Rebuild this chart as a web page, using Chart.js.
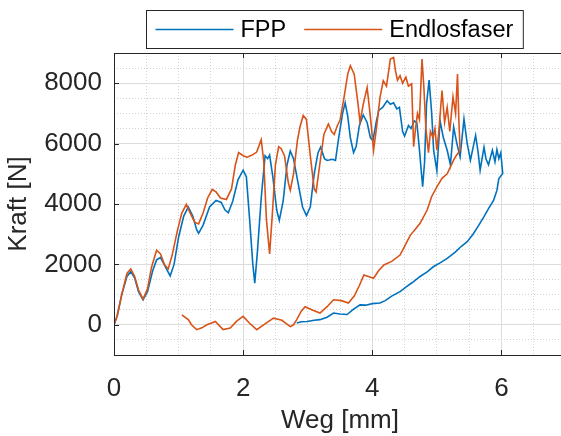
<!DOCTYPE html>
<html>
<head>
<meta charset="utf-8">
<script src="https://cdn.jsdelivr.net/npm/chart.js@4.4.1/dist/chart.umd.min.js"></script>
<style>
  html, body { margin: 0; padding: 0; background: #fff; overflow: hidden; }
  #wrap { width: 568px; height: 436px; }
</style>
</head>
<body>
<div id="wrap"><canvas id="chart" width="568" height="436"></canvas></div>
<script>
// FPP: loading up to ~6 mm, then unloading back down
const fppWeg = [
  0.0, 0.05, 0.12, 0.2, 0.26, 0.32, 0.38, 0.45, 0.52, 0.6, 0.66, 0.72, 0.8, 0.87, 0.93,
  1.0, 1.08, 1.15, 1.22, 1.28, 1.31, 1.38, 1.48, 1.58, 1.66, 1.72, 1.77, 1.84, 1.92,
  2.0, 2.05, 2.1, 2.15, 2.18, 2.22, 2.28, 2.34, 2.38, 2.41, 2.46, 2.52, 2.56, 2.62, 2.68,
  2.73, 2.78, 2.85, 2.92, 2.98, 3.04, 3.10, 3.16, 3.20, 3.26, 3.30, 3.38, 3.43, 3.48,
  3.54, 3.58, 3.62, 3.66, 3.71, 3.75, 3.80, 3.86, 3.92, 3.97, 4.01, 4.06, 4.10, 4.16,
  4.23, 4.28, 4.33, 4.38, 4.42, 4.47, 4.50, 4.56, 4.60, 4.65, 4.69, 4.73, 4.78, 4.81,
  4.84, 4.88, 4.92, 4.95, 5.00, 5.05, 5.10, 5.16, 5.21, 5.26, 5.31, 5.36, 5.42, 5.47,
  5.52, 5.60, 5.64, 5.67, 5.73, 5.76, 5.80, 5.86, 5.90, 5.93, 5.96, 5.99, 6.02,
  5.96, 5.93, 5.88, 5.80, 5.73, 5.65, 5.56, 5.47, 5.38, 5.28, 5.16, 5.05, 4.95, 4.85,
  4.74, 4.62, 4.52, 4.43, 4.30, 4.20, 4.12, 4.00, 3.90, 3.81, 3.70, 3.61, 3.50, 3.40,
  3.30, 3.19, 3.10, 2.99, 2.90, 2.83
];
const fppKraft = [
  0, 300, 1000, 1600, 1760, 1550, 1100, 830, 1100, 1800, 2150, 2230, 1900, 1620, 2000,
  2900, 3600, 3900, 3600, 3150, 3030, 3300, 3900, 4120, 4050, 3800, 3710, 4100, 4800,
  5120, 4900, 3500, 2000, 1380, 2400, 4200, 5600, 5500, 5620, 4900, 3800, 3460, 4100, 5300,
  5750, 5500, 4700, 3900, 3620, 3900, 5000, 5700, 5880, 5500, 5440, 5480, 5440, 6200,
  7000, 7350, 6900, 6200, 5700, 5900, 6600, 6950, 6700, 6200, 6100, 6700, 7100, 7200,
  7420, 7300, 7350, 7150, 7200, 6400, 6250, 6600, 6500, 6750, 6700, 5800, 4570, 5400,
  7300, 8100, 7000, 5780, 5100, 6750, 6200, 5780, 5300, 6550, 6000, 5560, 6820, 6000,
  5450, 6270, 5700, 5120, 5880, 5500, 5300, 5780, 5400, 5800, 5500, 5700, 5010,
  4840, 4450, 4130, 3850, 3580, 3300, 3000, 2750, 2600, 2400, 2200, 2050, 1930, 1750,
  1600, 1400, 1250, 1100, 950, 800, 720, 700, 650, 660, 500, 340, 360, 390,
  250, 170, 150, 110, 100, 60
];

// Endlosfaser: loading up to ~5.4 mm, then unloading back to ~1 mm
const endWeg = [
  0.0, 0.05, 0.12, 0.2, 0.26, 0.32, 0.38, 0.45, 0.52, 0.58, 0.66, 0.72, 0.78, 0.84, 0.90,
  0.98, 1.05, 1.12, 1.18, 1.25, 1.31, 1.38, 1.45, 1.52, 1.58, 1.65, 1.74, 1.82, 1.88,
  1.93, 2.00, 2.06, 2.14, 2.21, 2.28, 2.32, 2.36, 2.41, 2.45, 2.50, 2.55, 2.59, 2.64,
  2.70, 2.73, 2.78, 2.84, 2.88, 2.93, 2.98, 3.04, 3.10, 3.13, 3.18, 3.25, 3.32, 3.37,
  3.41, 3.46, 3.50, 3.56, 3.62, 3.66, 3.72, 3.78, 3.81, 3.86, 3.92, 3.97, 4.02, 4.07,
  4.12, 4.17, 4.22, 4.28, 4.33, 4.36, 4.39, 4.43, 4.47, 4.52, 4.56, 4.61, 4.64, 4.67,
  4.70, 4.73, 4.77, 4.80, 4.83, 4.87, 4.90, 4.94, 4.97, 5.00, 5.03, 5.08, 5.12, 5.16,
  5.20, 5.25, 5.29, 5.32, 5.34, 5.36,
  5.30, 5.26, 5.21, 5.16, 5.08, 5.00, 4.92, 4.85, 4.74, 4.66, 4.59, 4.50, 4.43, 4.30,
  4.18, 4.10, 4.02, 3.94, 3.87, 3.80, 3.72, 3.63, 3.52, 3.40, 3.30, 3.19, 3.08, 2.96,
  2.90, 2.83, 2.78, 2.73, 2.60, 2.47, 2.35, 2.21, 2.10, 2.00, 1.90, 1.80, 1.69, 1.57,
  1.44, 1.36, 1.28, 1.20, 1.15, 1.05
];
const endKraft = [
  0, 300, 1000, 1700, 1850, 1600, 1150, 850, 1200, 1900, 2470, 2350, 2000, 1850, 2300,
  3100, 3700, 3990, 3700, 3400, 3340, 3700, 4200, 4480, 4400, 4200, 4150, 4500, 5300,
  5700, 5600, 5550, 5620, 5720, 6130, 5400, 3500, 2350, 3600, 5300, 5900, 5830, 5600,
  4700, 4460, 5000, 6100, 6550, 6930, 6800, 5600, 4500, 4400, 5200, 6300, 6650, 6400,
  6300, 6600, 6770, 7500, 8300, 8580, 8300, 7300, 6710, 7300, 7860, 6900, 5780, 6600,
  7540, 8080, 7900, 8800, 8850, 8400, 8100, 8250, 8000, 8200, 7900, 7980, 5900, 6500,
  7000, 6800, 8800, 7820, 6500, 5700, 6400, 6200, 6500, 5780, 6400, 7760, 6700, 7200,
  6400, 7550, 7000, 8300, 6800, 5780,
  5600, 5450, 5230, 5000, 4850, 4570, 4250, 3800, 3360, 3150, 2970, 2600, 2310, 2100,
  1980, 1800, 1540, 1600, 1650, 1300, 950, 720, 800, 830, 600, 390, 480, 600,
  450, 170, 0, -60, 150, 220, 50, -160, 50, 280, 120, -110, -160, 110,
  0, -100, -160, 0, 170, 330
];

const xTickLabels = [0, 2, 4, 6];
const yTickLabels = [0, 2000, 4000, 6000, 8000];

const axisColor = "#262626";
const fontFamily = "'Liberation Sans', Arial, Helvetica, sans-serif";

const toPoints = (xs, ys) => xs.map((x, i) => ({ x: x, y: ys[i] }));

// MATLAB-like box legend above the axes
const legendBox = {
  id: "legendBox",
  afterDraw(chart) {
    const ctx = chart.ctx;
    const sets = chart.data.datasets;
    ctx.save();
    ctx.font = "23.5px " + fontFamily;
    const lineLen = 78, gapText = 7, gapItem = 18, padL = 9, padR = 10;
    let width = padL + padR;
    sets.forEach((ds, i) => {
      width += lineLen + gapText + ctx.measureText(ds.label).width;
      if (i < sets.length - 1) width += gapItem;
    });
    const cx = 334.5, top = 10, height = 38;
    const left = Math.round(cx - width / 2) + 0.5;
    ctx.fillStyle = "#fff";
    ctx.fillRect(left, top + 0.5, width, height);
    ctx.strokeStyle = axisColor;
    ctx.lineWidth = 1;
    ctx.strokeRect(left, top + 0.5, width, height);
    const y = top + height / 2 + 0.5;
    let x = left + padL;
    ctx.textBaseline = "middle";
    ctx.textAlign = "left";
    sets.forEach((ds) => {
      ctx.strokeStyle = ds.borderColor;
      ctx.lineWidth = 1.5;
      ctx.beginPath();
      ctx.moveTo(x, y);
      ctx.lineTo(x + lineLen, y);
      ctx.stroke();
      x += lineLen + gapText;
      ctx.fillStyle = "#000";
      ctx.fillText(ds.label, x, y + 1);
      x += ctx.measureText(ds.label).width + gapItem;
    });
    ctx.restore();
  }
};

// axes box with inward ticks
const axesBox = {
  id: "axesBox",
  afterDraw(chart) {
    const { ctx, chartArea: a, scales } = chart;
    ctx.save();
    ctx.strokeStyle = axisColor;
    ctx.lineWidth = 1;
    ctx.strokeRect(Math.round(a.left) + 0.5, Math.round(a.top) + 0.5,
      Math.round(a.right - a.left), Math.round(a.bottom - a.top));
    const t = 5;
    ctx.beginPath();
    xTickLabels.forEach((v) => {
      const px = Math.round(scales.x.getPixelForValue(v)) + 0.5;
      ctx.moveTo(px, a.bottom); ctx.lineTo(px, a.bottom - t);
      ctx.moveTo(px, a.top); ctx.lineTo(px, a.top + t);
    });
    yTickLabels.forEach((v) => {
      const py = Math.round(scales.y.getPixelForValue(v)) + 0.5;
      ctx.moveTo(a.left, py); ctx.lineTo(a.left + t, py);
      ctx.moveTo(a.right, py); ctx.lineTo(a.right - t, py);
    });
    ctx.stroke();
    ctx.restore();
  }
};

const isMajorX = (v) => xTickLabels.includes(v);
const isMajorY = (v) => v % 2000 === 0;

const chart = new Chart(document.getElementById("chart"), {
  type: "scatter",
  data: {
    datasets: [
      {
        label: "FPP",
        data: toPoints(fppWeg, fppKraft),
        borderColor: "#0072BD",
        backgroundColor: "#0072BD",
        order: 1
      },
      {
        label: "Endlosfaser",
        data: toPoints(endWeg, endKraft),
        borderColor: "#D95319",
        backgroundColor: "#D95319",
        order: 0
      }
    ]
  },
  options: {
    responsive: false,
    animation: false,
    showLine: true,
    elements: {
      point: { radius: 0, hoverRadius: 0 },
      line: { borderWidth: 1.6, tension: 0 }
    },
    layout: { padding: { top: 53, right: 2, left: 0, bottom: 0 } },
    plugins: {
      legend: { display: false },
      tooltip: { enabled: false }
    },
    scales: {
      x: {
        type: "linear",
        min: 0,
        max: 7,
        afterFit: (scale) => {
          scale.height = 81;
          scale.paddingLeft = 0;
          scale.paddingRight = 0;
        },
        ticks: {
          stepSize: 0.5,
          autoSkip: false,
          maxRotation: 0,
          padding: 18,
          color: axisColor,
          font: { family: fontFamily, size: 26 },
          callback: (v) => (xTickLabels.includes(v) ? String(v) : "")
        },
        grid: {
          drawTicks: false,
          color: (c) => (c.tick && isMajorX(c.tick.value) ? "#dcdcdc" : "#d2d2d2"),
          lineWidth: 1
        },
        border: {
          display: false,
          dash: (c) => (c.tick && isMajorX(c.tick.value) ? [] : [1, 2])
        },
        title: {
          display: true,
          text: "Weg [mm]",
          color: axisColor,
          font: { family: fontFamily, size: 26 },
          padding: 0
        }
      },
      y: {
        min: -1000,
        max: 9000,
        afterFit: (scale) => {
          scale.width = 114;
          scale.paddingTop = 0;
          scale.paddingBottom = 0;
        },
        ticks: {
          stepSize: 500,
          autoSkip: false,
          padding: 12,
          color: axisColor,
          font: { family: fontFamily, size: 26 },
          callback: (v) => (yTickLabels.includes(v) ? String(v) : "")
        },
        grid: {
          drawTicks: false,
          color: (c) => (c.tick && isMajorY(c.tick.value) ? "#dcdcdc" : "#d2d2d2"),
          lineWidth: 1
        },
        border: {
          display: false,
          dash: (c) => (c.tick && isMajorY(c.tick.value) ? [] : [1, 2])
        },
        title: {
          display: true,
          text: "Kraft [N]",
          color: axisColor,
          font: { family: fontFamily, size: 26 },
          padding: { top: 3, bottom: 0 }
        }
      }
    }
  },
  plugins: [legendBox, axesBox]
});
</script>
</body>
</html>
